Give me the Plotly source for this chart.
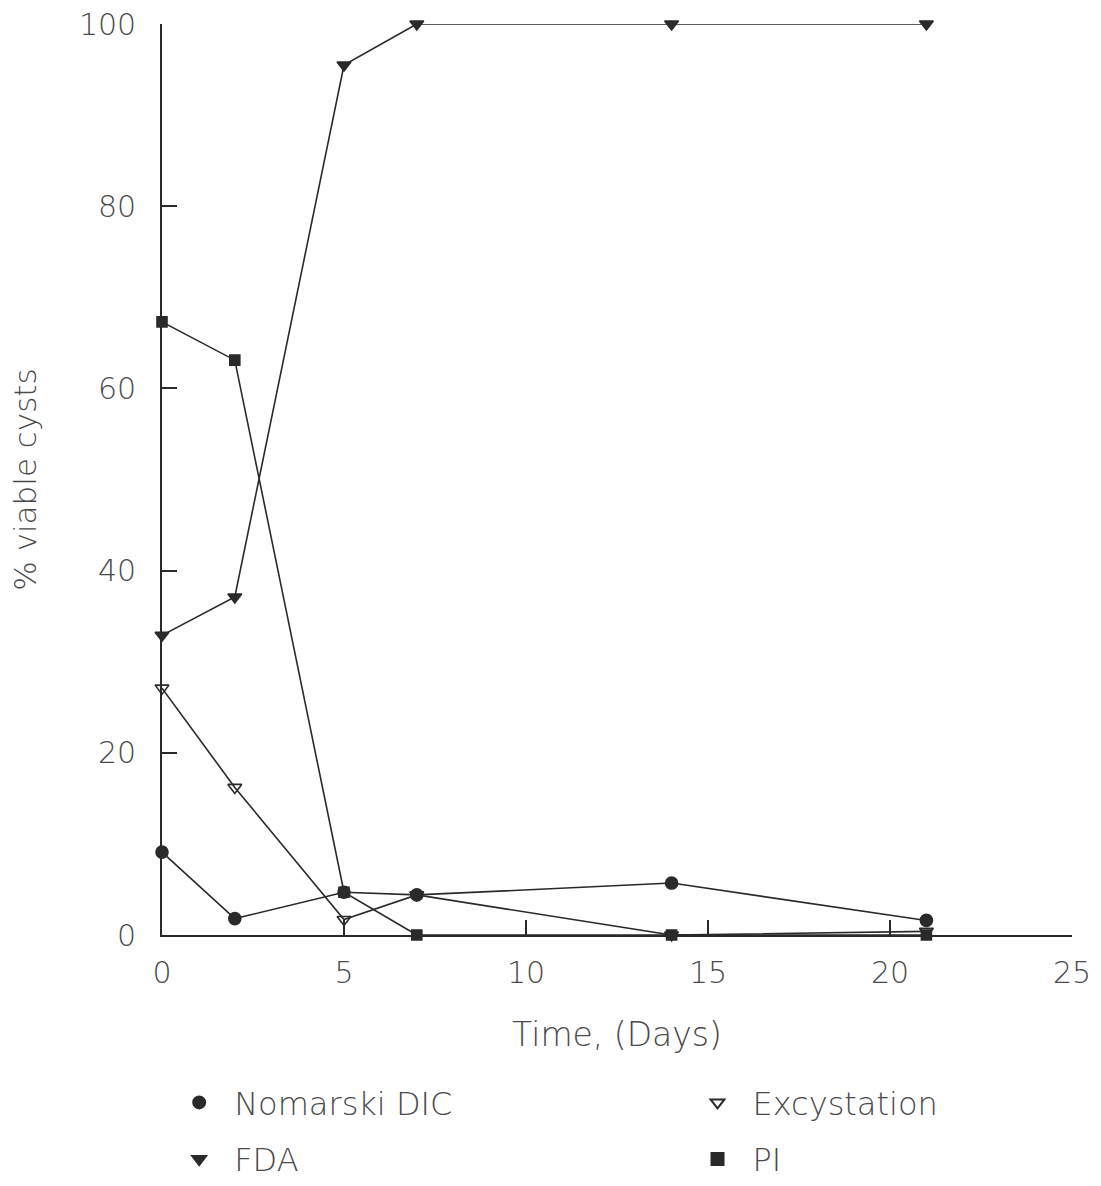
import plotly.graph_objects as go

days = [0, 2, 5, 7, 14, 21]
nomarski = [9.1, 1.8, 4.7, 4.4, 5.7, 1.6]
fda = [32.9, 37.1, 95.5, 100, 100, 100]
excyst = [27.1, 16.2, 1.7, 4.4, 0.0, 0.4]
pi = [67.3, 63.1, 4.7, 0.0, 0.0, 0.0]

series_names = ["Nomarski DIC", "Excystation", "FDA", "PI"]
series_vals = [nomarski, excyst, fda, pi]
symbols = ["circle", "triangle-down-open", "triangle-down", "square"]
sizes = [12, 12, 12, 10]
legend_ids = ["legend", "legend2", "legend", "legend2"]

ink = "#2a2a2a"
txt = "#4a4a4a"
FONT = "DejaVu Sans"

fig = go.Figure()
order = [1, 0, 2, 3]
for i in order:
    fig.add_trace(go.Scatter(
        x=days, y=series_vals[i], mode="lines+markers",
        line=dict(color=ink, width=1.6),
        marker=dict(symbol=symbols[i], size=sizes[i], color=ink,
                    line=dict(color=ink, width=1.6)),
        showlegend=False, cliponaxis=False, name=series_names[i]))

for i in range(4):
    fig.add_trace(go.Scatter(
        x=[None], y=[None], mode="markers", name=series_names[i],
        legendgroup=series_names[i],
        marker=dict(symbol=symbols[i], size=8, color=ink,
                    line=dict(color=ink, width=1.2)),
        showlegend=True, legend=legend_ids[i]))

tfont = dict(family=FONT, size=30, color=txt, weight=300)
legend_common = dict(orientation="v", yref="container", y=0.0935, yanchor="top",
                     xanchor="left", font=dict(family=FONT, size=32, color=txt, weight=300),
                     itemsizing="constant", itemwidth=60, tracegroupgap=12,
                     bgcolor="rgba(0,0,0,0)")

fig.update_layout(
    width=1101, height=1186,
    margin=dict(l=162, r=29, t=24, b=251, autoexpand=False),
    paper_bgcolor="white", plot_bgcolor="white",
    font=tfont,
    xaxis=dict(range=[0, 25], tickvals=[0, 5, 10, 15, 20, 25],
               ticks="inside", ticklen=15, tickwidth=1.5, tickcolor=ink,
               showline=True, linecolor=ink, linewidth=1.6,
               showgrid=False, zeroline=False, ticklabelstandoff=10,
               tickfont=tfont,
               title=dict(text="Time, (Days)", font=dict(family=FONT, size=33, color=txt, weight=300), standoff=34)),
    yaxis=dict(range=[0, 100], tickvals=[0, 20, 40, 60, 80, 100],
               ticks="inside", ticklen=15, tickwidth=1.5, tickcolor=ink,
               showline=True, linecolor=ink, linewidth=1.6,
               showgrid=False, zeroline=False, ticklabelstandoff=18,
               tickfont=tfont,
               title=dict(text="% viable cysts", font=dict(family=FONT, size=31, color=txt, weight=300), standoff=33)),
    legend=dict(x=0.0024, **legend_common),
    legend2=dict(x=0.572, **legend_common),
)

fig.write_html("out.html")
